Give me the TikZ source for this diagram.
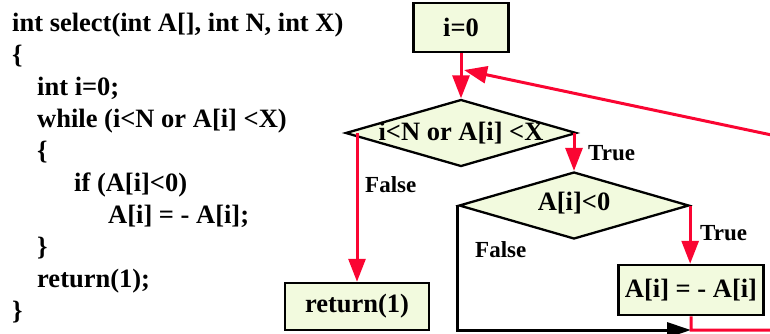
\documentclass[tikz,border=0pt]{standalone}
\usepackage{fontspec}
\setmainfont{Liberation Serif}
\usetikzlibrary{shapes.geometric, arrows.meta, positioning, calc}
\definecolor{boxfill}{RGB}{242,250,222}
\definecolor{flowred}{RGB}{250,5,50}

\begin{document}
\begin{tikzpicture}[x=1pt, y=-1pt,
  every node/.style={font=\fontsize{26.5}{32}\selectfont\bfseries},
  blk/.style={rectangle, draw=black, fill=boxfill, line width=2.5pt,
    inner sep=0pt},
  dec/.style={diamond, draw=black, fill=boxfill, line width=2.3pt,
    inner sep=0pt},
  code/.style={anchor=base west, inner sep=0pt},
  lbl/.style={font=\fontsize{23}{26}\selectfont\bfseries, inner sep=0pt,
    anchor=west},
  ar/.style={-{Triangle[length=23pt,width=17pt]}, draw=flowred,
    line width=3pt},
  arb/.style={-{Triangle[length=24pt,width=15pt]}, draw=black,
    line width=3pt}
]
  \useasboundingbox (0,0) rectangle (770,333);
  % Source code
  \foreach \ind/\txt [count=\k] in {
      0/{int select(int A[], int N, int X)},
      0/\{,
      25/{int i=0;},
      25/{while (i<N or A[i] <X)},
      25/\{,
      62/{if (A[i]<0)},
      96/{A[i] = - A[i];},
      25/\},
      25/{return(1);},
      0/\}}
    \node[code] (l\k) at (12+\ind, 31+32*\k-32) {\txt};
  % Flow chart
  \node[blk, minimum width=95pt, minimum height=49pt] (init)
    at (461,27.5) {i=0};
  \node[dec, minimum width=231pt, minimum height=67pt] (cond)
    at (461,133) {};
  \node (condtxt) at (cond.center) {i<N or A[i] <X};
  \node[dec, minimum width=230pt, minimum height=67pt] (test)
    at (574,205.5) {};
  \node (testtxt) at ([yshift=2pt]test.center) {A[i]<0};
  \node[blk, minimum width=145pt, minimum height=50pt] (neg)
    at (691,290) {A[i] = - A[i]};
  \node[blk, minimum width=144pt, minimum height=47pt] (ret)
    at (357,306.5) {return(1)};
  \coordinate (botline) at (0,330);
  \coordinate (back) at (800,141);
  \coordinate (join) at (464,70);
  % Arrows
  \draw[ar] (init) -- (cond);
  \draw[ar] (cond.east -| test.north) -- (test.north);
  \node[lbl] (true1) at (588,153) {True};
  \draw[ar] (cond.west -| ret.north) -- (ret.north);
  \node[lbl] (false1) at (365,185) {False};
  \draw[ar] (test.east) -- (test.east |- neg.north);
  \node[lbl] (true2) at (700,233) {True};
  \draw[arb] (test.west) |- (neg.south |- botline);
  \node[lbl] (false2) at (475,250) {False};
  \draw[ar] (neg.south) -- (neg.south |- botline) -- (botline -| back)
    -- (back) -- (join);
\end{tikzpicture}
\end{document}
